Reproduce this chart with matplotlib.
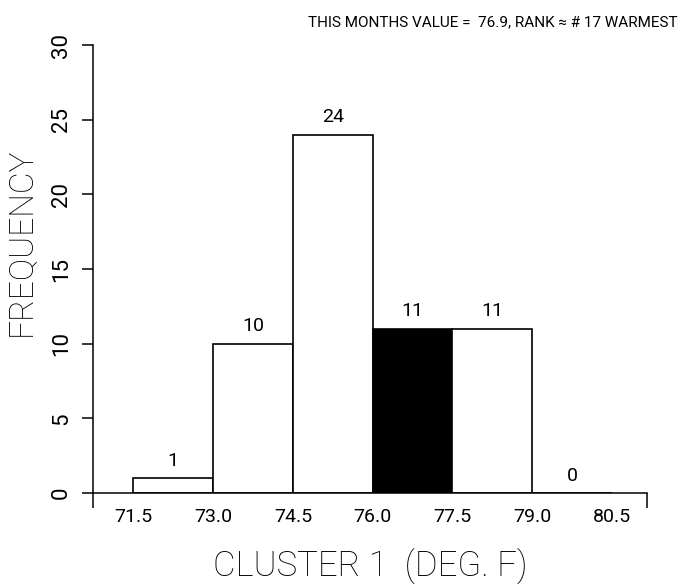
import matplotlib
matplotlib.use("Agg")
import matplotlib.pyplot as plt

# histogram of cluster 1 temperatures
bin_edges = [71.5, 73.0, 74.5, 76.0, 77.5, 79.0, 80.5]
counts = [1, 10, 24, 11, 11, 0]
this_month = 76.9
rank = 17
tick_labels = ["71.5", "73.0", "74.5", "76.0", "77.5", "79.0", "80.5"]

plt.rcParams['font.family'] = ['Roboto', 'DejaVu Sans']

fig = plt.figure(figsize=(6.8, 5.84), dpi=100)
ax = fig.add_axes([93/680, 91/584, 554/680, 448/584])

width = bin_edges[1] - bin_edges[0]
for i, c in enumerate(counts):
    left = bin_edges[i]
    fc = 'black' if left <= this_month < bin_edges[i+1] else 'white'
    ax.bar(left, c, width=width, align='edge', facecolor=fc, edgecolor='black', linewidth=1.2)
    ax.annotate(str(c), (left + width/2, c), xytext=(0, 6), textcoords='offset points',
                ha='center', va='bottom', fontsize=14)

xmin, xmax = 70.74, 81.16
ax.set_xlim(xmin, xmax)
ax.set_ylim(0, 30)

ax.spines['top'].set_visible(False)
ax.spines['right'].set_visible(False)
ax.spines['left'].set_linewidth(1.1)
ax.spines['bottom'].set_linewidth(1.1)

ax.set_xticks(bin_edges)
ax.set_xticklabels(tick_labels, fontsize=14)
ax.set_xticks([xmin, xmax], minor=True)
ax.tick_params(axis='x', which='major', length=0, pad=11)
ax.tick_params(axis='x', which='minor', length=11, width=1.1, direction='out')

ax.set_yticks(range(0, 31, 5))
ax.set_yticklabels([str(v) for v in range(0, 31, 5)], rotation=90, va='center', fontsize=16)
ax.tick_params(axis='y', length=8, width=1.1, pad=7)

ax.set_ylabel('FREQUENCY', fontsize=24, fontweight='light', color='black')
ax.yaxis.set_label_coords(-0.101, 0.56)
ax.set_xlabel('CLUSTER 1  (DEG. F)', fontsize=25, fontweight='light', color='black')
ax.xaxis.set_label_coords(0.5, -0.125)

fig.text(678/680, 1 - 22/584, 'THIS MONTHS VALUE =  %.1f, RANK \u2248 # %d WARMEST' % (this_month, rank),
         ha='right', va='center', fontsize=11)

fig.savefig('out.png', dpi=100)
